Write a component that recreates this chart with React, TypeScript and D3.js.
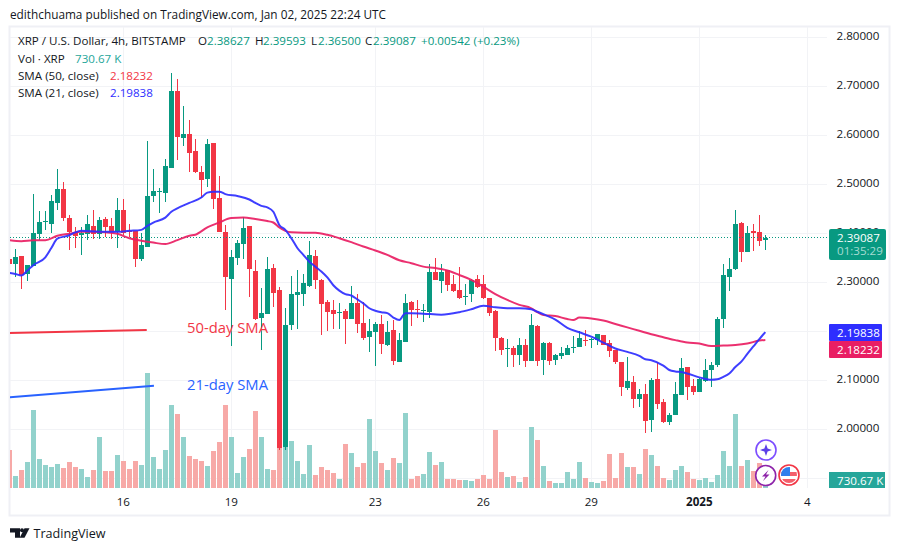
import React from "react";
import * as d3 from "d3";

const openPrice = [2.347,2.337,2.354,2.317,2.333,2.398,2.424,2.419,2.462,2.490,2.431,2.403,2.397,2.398,2.415,2.398,2.429,2.415,2.403,2.447,2.405,2.405,2.347,2.372,2.476,2.484,2.482,2.534,2.690,2.595,2.603,2.568,2.525,2.511,2.584,2.472,2.403,2.307,2.350,2.378,2.415,2.323,2.227,2.235,2.329,2.284,1.964,2.213,2.274,2.276,2.292,2.354,2.305,2.260,2.243,2.237,2.241,2.225,2.258,2.217,2.188,2.198,2.215,2.172,2.203,2.137,2.178,2.260,2.245,2.241,2.239,2.321,2.303,2.325,2.296,2.284,2.270,2.276,2.307,2.296,2.268,2.241,2.186,2.164,2.166,2.152,2.172,2.139,2.211,2.141,2.176,2.141,2.149,2.152,2.166,2.168,2.182,2.182,2.182,2.192,2.176,2.162,2.137,2.084,2.096,2.062,2.072,2.019,2.103,2.056,2.015,2.029,2.070,2.127,2.088,2.076,2.098,2.121,2.131,2.225,2.311,2.327,2.421,2.362,2.405,2.403,2.38627];
const highPrice = [2.352,2.368,2.354,2.335,2.480,2.445,2.445,2.478,2.531,2.505,2.437,2.413,2.413,2.437,2.447,2.434,2.433,2.431,2.472,2.470,2.419,2.405,2.400,2.588,2.531,2.492,2.552,2.727,2.715,2.660,2.631,2.592,2.538,2.592,2.584,2.517,2.417,2.366,2.386,2.434,2.415,2.345,2.288,2.352,2.337,2.290,2.247,2.313,2.325,2.317,2.384,2.366,2.307,2.264,2.264,2.258,2.245,2.292,2.276,2.260,2.225,2.219,2.233,2.221,2.223,2.196,2.276,2.262,2.264,2.256,2.337,2.349,2.337,2.325,2.315,2.331,2.296,2.307,2.315,2.315,2.268,2.243,2.188,2.184,2.170,2.186,2.184,2.235,2.213,2.178,2.178,2.154,2.168,2.172,2.190,2.200,2.203,2.186,2.194,2.192,2.182,2.162,2.137,2.147,2.109,2.082,2.092,2.105,2.137,2.062,2.033,2.096,2.145,2.127,2.103,2.105,2.143,2.137,2.229,2.337,2.349,2.447,2.423,2.415,2.419,2.437,2.39593];
const lowPrice = [2.333,2.311,2.287,2.303,2.333,2.386,2.407,2.401,2.447,2.426,2.366,2.370,2.356,2.386,2.388,2.389,2.392,2.388,2.370,2.396,2.392,2.331,2.343,2.372,2.464,2.441,2.464,2.533,2.549,2.578,2.525,2.523,2.472,2.495,2.449,2.403,2.243,2.170,2.335,2.347,2.270,2.223,2.162,2.235,2.250,1.958,1.958,2.203,2.205,2.252,2.290,2.286,2.192,2.200,2.205,2.205,2.174,2.225,2.196,2.182,2.158,2.129,2.154,2.170,2.131,2.137,2.178,2.211,2.227,2.219,2.227,2.305,2.278,2.282,2.280,2.266,2.254,2.260,2.288,2.266,2.231,2.160,2.152,2.127,2.127,2.131,2.127,2.139,2.129,2.111,2.131,2.131,2.143,2.152,2.156,2.168,2.170,2.166,2.172,2.172,2.147,2.133,2.068,2.080,2.043,2.045,1.992,1.994,2.041,2.013,2.009,2.029,2.070,2.060,2.070,2.076,2.096,2.086,2.127,2.207,2.282,2.325,2.341,2.362,2.364,2.374,2.365];
const closePrice = [2.337,2.351,2.314,2.335,2.400,2.423,2.426,2.466,2.490,2.431,2.403,2.394,2.401,2.419,2.398,2.427,2.413,2.403,2.447,2.401,2.403,2.347,2.376,2.476,2.486,2.486,2.537,2.690,2.597,2.603,2.564,2.525,2.509,2.582,2.470,2.403,2.311,2.352,2.380,2.411,2.328,2.225,2.237,2.327,2.278,1.962,2.213,2.276,2.280,2.298,2.356,2.305,2.256,2.239,2.235,2.239,2.225,2.258,2.215,2.186,2.200,2.215,2.174,2.198,2.139,2.182,2.258,2.243,2.243,2.243,2.321,2.305,2.321,2.294,2.282,2.268,2.272,2.305,2.290,2.268,2.237,2.186,2.162,2.166,2.152,2.172,2.139,2.213,2.139,2.176,2.139,2.152,2.156,2.166,2.168,2.186,2.180,2.184,2.194,2.172,2.160,2.137,2.086,2.098,2.062,2.072,2.017,2.100,2.052,2.015,2.029,2.072,2.125,2.086,2.076,2.103,2.121,2.131,2.225,2.315,2.327,2.419,2.362,2.400,2.400,2.384,2.39087];
const volumeK = [3800,1200,1800,2600,7800,2900,2300,2100,2400,2000,2600,2100,1900,1100,1800,5100,1700,1700,3300,2700,1900,2700,2300,11500,3100,1900,3800,8300,7400,5100,3200,2900,2700,2200,3700,4600,8300,5100,1500,3100,3900,7700,5100,1900,1800,4100,4100,4700,2700,1400,4300,1300,2100,1800,1500,900,4400,3500,2100,2500,6900,3700,2500,1800,3000,2500,7500,900,1200,1400,3600,2300,2600,900,900,800,800,700,900,1300,900,5800,1600,1100,1200,600,1100,6100,4800,2200,700,500,500,1600,900,2600,1000,600,500,700,3400,1000,3500,2100,2100,1400,3900,3300,2200,1000,800,1800,2200,1600,900,800,1000,600,1300,3700,2200,7400,2200,2800,1700,2500,730.67];

const sma21Index = [-1,0,1,2,3,5,6,7,9,10,11,14,17,19,21,22,23,25,26,27,29,31,32,33,34,35,37,39,40,41,42,43,44,45,46,47,48,49,50,51,52,53,54,55,56,57,58,59,60,61,62,63,64,65,66,68,71,74,76,78,80,82,84,86,87,88,90,92,94,96,98,100,102,104,105,106,108,109,110,111,112,114,116,117,118,119,120,121,122,123,124,125];
const sma21Value = [2.319,2.317,2.314,2.324,2.335,2.351,2.370,2.389,2.396,2.402,2.405,2.403,2.403,2.405,2.407,2.415,2.422,2.432,2.444,2.451,2.462,2.473,2.483,2.485,2.485,2.480,2.476,2.469,2.462,2.456,2.453,2.444,2.417,2.407,2.390,2.370,2.356,2.342,2.332,2.322,2.310,2.294,2.283,2.276,2.273,2.265,2.257,2.247,2.242,2.239,2.237,2.228,2.223,2.237,2.237,2.236,2.234,2.239,2.245,2.252,2.249,2.247,2.247,2.245,2.240,2.235,2.224,2.207,2.198,2.189,2.177,2.165,2.158,2.150,2.143,2.141,2.130,2.121,2.118,2.117,2.114,2.106,2.101,2.102,2.107,2.114,2.127,2.138,2.154,2.169,2.184,2.19838];
const sma50Index = [-1,1,3,5,7,9,11,13,15,17,19,21,23,25,27,29,30,32,34,36,38,40,42,43,44,45,46,48,50,52,54,56,58,60,62,64,66,68,70,72,74,76,78,80,82,84,86,87,88,90,92,93,94,96,98,100,102,104,106,108,110,112,114,116,118,120,122,124,125];
const sma50Value = [2.386,2.384,2.386,2.386,2.395,2.399,2.403,2.403,2.402,2.399,2.390,2.385,2.381,2.378,2.386,2.395,2.397,2.412,2.422,2.431,2.432,2.429,2.425,2.422,2.412,2.405,2.402,2.401,2.401,2.397,2.390,2.382,2.373,2.365,2.356,2.345,2.339,2.332,2.329,2.324,2.315,2.305,2.291,2.276,2.264,2.254,2.247,2.239,2.233,2.231,2.225,2.223,2.228,2.226,2.222,2.215,2.208,2.201,2.194,2.188,2.182,2.177,2.175,2.170,2.171,2.172,2.175,2.181,2.18232];

const priceTicks = [2.8,2.7,2.6,2.5,2.4,2.3,2.1,2.0];
const gridPrices = [2.8,2.7,2.6,2.5,2.4,2.3,2.2,2.1,2.0,1.9];
const timeTickIndex = [18,36,60,78,96,114,132];
const timeTickLabel = ["16","19","23","26","29","2025","4"];
const lineEnd50Index = [-0.9,21.9];
const lineEnd50Price = [2.1965,2.2026];
const lineEnd21Index = [-0.9,23.1];
const lineEnd21Price = [2.0653,2.089];

const FONT = "'Open Sans','Noto Sans',sans-serif";
const UP = "#089981", DOWN = "#f23645", VUP = "#92d2cc", VDOWN = "#f7a9a7";
const TXT = "#131722", BLUE = "#2e2eff", PINK = "#e91e63", GRID = "#f2f3f6";

const x = d3.scaleLinear().domain([-1,125]).range([9.33,765.33]);
const y = d3.scaleLinear().domain([2.8,2.0]).range([37.3,429.3]);
const yVol = d3.scaleLinear().domain([0,11500]).range([488,373]);

const lineOf = (idx:number[], val:number[]) =>
  d3.line<number>().x((_,k)=>x(idx[k])).y((d)=>y(d)).curve(d3.curveMonotoneX)(val) as string;

export default function App(){
  const indices = d3.range(openPrice.length);
  const lastY = y(closePrice[closePrice.length-1]);
  return (
    <svg width={900} height={551} viewBox="0 0 900 551" style={{position:"fixed",left:0,top:0,background:"#fff",fontFamily:FONT}}>
      <defs>
        <clipPath id="plot"><rect x={10} y={27} width={817} height={461}/></clipPath>
      </defs>
      <text x={10} y={19} fontSize={11.8} fill={TXT}>edithchuama published on TradingView.com, Jan 02, 2025 22:24 UTC</text>
      <rect x={9.5} y={26.5} width={880} height={489} fill="none" stroke="#eff0f5" strokeWidth={2}/>

      {gridPrices.map(p=><line key={p} x1={10} x2={827} y1={Math.round(y(p))+0.5} y2={Math.round(y(p))+0.5} stroke={GRID}/>)}
      {timeTickIndex.map(i=><line key={i} x1={Math.floor(x(i))+0.5} x2={Math.floor(x(i))+0.5} y1={27} y2={488} stroke={GRID}/>)}

      <g clipPath="url(#plot)">
        {indices.map(i=>{
          const top = Math.round(yVol(volumeK[i]));
          return <rect key={i} x={Math.floor(x(i-1))-2} y={top} width={5} height={488-top}
            fill={closePrice[i]>=openPrice[i]?VUP:VDOWN}/>;
        })}
        {indices.map(i=>{
          const cx = Math.floor(x(i-1));
          const col = closePrice[i]>=openPrice[i]?UP:DOWN;
          const t = Math.round(y(Math.max(openPrice[i],closePrice[i])));
          const b = Math.round(y(Math.min(openPrice[i],closePrice[i])));
          const h = Math.round(y(highPrice[i]));
          const l = Math.round(y(lowPrice[i]));
          return <g key={i}>
            <rect x={cx} y={h} width={1} height={Math.max(l-h,1)} fill={col}/>
            <rect x={cx-2} y={t} width={5} height={Math.max(b-t,1)} fill={col}/>
          </g>;
        })}
        <line x1={10} x2={829} y1={Math.round(lastY)-0.5} y2={Math.round(lastY)-0.5} stroke={UP} strokeDasharray="1 2"/>
        <path d={lineOf(sma50Index,sma50Value)} fill="none" stroke={PINK} strokeWidth={2} opacity={0.92}/>
        <path d={lineOf(sma21Index,sma21Value)} fill="none" stroke={BLUE} strokeWidth={2} opacity={0.92}/>
        <path d={lineOf(lineEnd50Index,lineEnd50Price)} fill="none" stroke={DOWN} strokeWidth={2}/>
        <path d={lineOf(lineEnd21Index,lineEnd21Price)} fill="none" stroke="#2962ff" strokeWidth={2}/>
      </g>
      <text x={187} y={333} fontSize={14.8} fill={DOWN}>50-day SMA</text>
      <text x={187} y={390} fontSize={14.8} fill="#2962ff">21-day SMA</text>

      <g fontSize={11.6} fill={TXT}>
        <text x={18} y={45}>XRP / U.S. Dollar, 4h, BITSTAMP</text>
        <text x={198} y={45}>O</text><text x={207} y={45} fill={UP}>2.38627</text>
        <text x={255} y={45}>H</text><text x={263} y={45} fill={UP}>2.39593</text>
        <text x={311} y={45}>L</text><text x={318} y={45} fill={UP}>2.36500</text>
        <text x={365} y={45}>C</text><text x={373} y={45} fill={UP}>2.39087</text>
        <text x={421} y={45} fill={UP}>+0.00542 (+0.23%)</text>
        <text x={18} y={63}>Vol · XRP</text><text x={75} y={63} fill="#26a69a">730.67 K</text>
        <text x={18} y={80}>SMA (50, close)</text><text x={110} y={80} fill={DOWN}>2.18232</text>
        <text x={18} y={97}>SMA (21, close)</text><text x={110} y={97} fill={BLUE}>2.19838</text>
      </g>

      <g fontSize={11.6} fill={TXT}>
        {priceTicks.map(p=><text key={p} x={836.5} y={y(p)+3}>{p.toFixed(5)}</text>)}
        {timeTickIndex.map((i,k)=><text key={i} x={x(i)} y={506} textAnchor="middle" fontWeight={timeTickLabel[k]==="2025"?700:400}>{timeTickLabel[k]}</text>)}
      </g>

      <rect x={829} y={229} width={57} height={31} rx={2} fill={UP}/>
      <text x={837} y={242} fontSize={11.6} fill="#fff">{closePrice[closePrice.length-1].toFixed(5)}</text>
      <text x={837} y={255} fontSize={11.6} fill="#a5dcd2">01:35:29</text>
      <rect x={829} y={324} width={53} height={17} rx={1} fill={BLUE}/>
      <text x={837} y={337} fontSize={11.6} fill="#fff">{sma21Value[sma21Value.length-1].toFixed(5)}</text>
      <rect x={829} y={341} width={53} height={17} rx={1} fill={PINK}/>
      <text x={837} y={354} fontSize={11.6} fill="#fff">{sma50Value[sma50Value.length-1].toFixed(5)}</text>
      <rect x={829} y={472} width={56} height={16} fill="#26a69a"/>
      <text x={837} y={485} fontSize={11.6} fill="#fff">{volumeK[volumeK.length-1].toFixed(2)} K</text>

      <circle cx={766} cy={450} r={10} fill="#fff" stroke="#7c4dff" strokeWidth={1.6}/>
      <path d="M766 444 L767.6 448.4 L772 450 L767.6 451.6 L766 456 L764.4 451.6 L760 450 L764.4 448.4 Z" fill="#5b3fe8"/>
      <circle cx={765.7} cy={475.5} r={10} fill="#fff" stroke="#8e24aa" strokeWidth={1.6}/>
      <path d="M768.5 470 L762 476.5 L765.5 476.5 L763 481 L769.5 474.5 L766 474.5 Z" fill="#8e24aa"/>
      <circle cx={789} cy={475} r={10} fill="#fff" stroke="#f23645" strokeWidth={1.6}/>
      <clipPath id="flag"><circle cx={789} cy={475} r={8}/></clipPath>
      <g clipPath="url(#flag)">
        <rect x={780} y={467} width={18} height={16} fill="#fff"/>
        <rect x={780} y={472} width={18} height={4} fill="#f4606c"/>
        <rect x={780} y={479} width={18} height={4} fill="#f4606c"/>
        <rect x={780} y={467} width={10} height={9} fill="#2f80ed"/>
      </g>

      <path d="M10 528.3 H20 V537.7 H15 V532.5 H10 Z" fill={TXT}/>
      <circle cx={22} cy={530.3} r={2} fill={TXT}/>
      <path d="M24.5 528.3 H29.5 L24.5 537.7 H19.7 Z" fill={TXT}/>
      <text x={33.5} y={538} fontSize={12.6} fill={TXT}>TradingView</text>
    </svg>
  );
}
